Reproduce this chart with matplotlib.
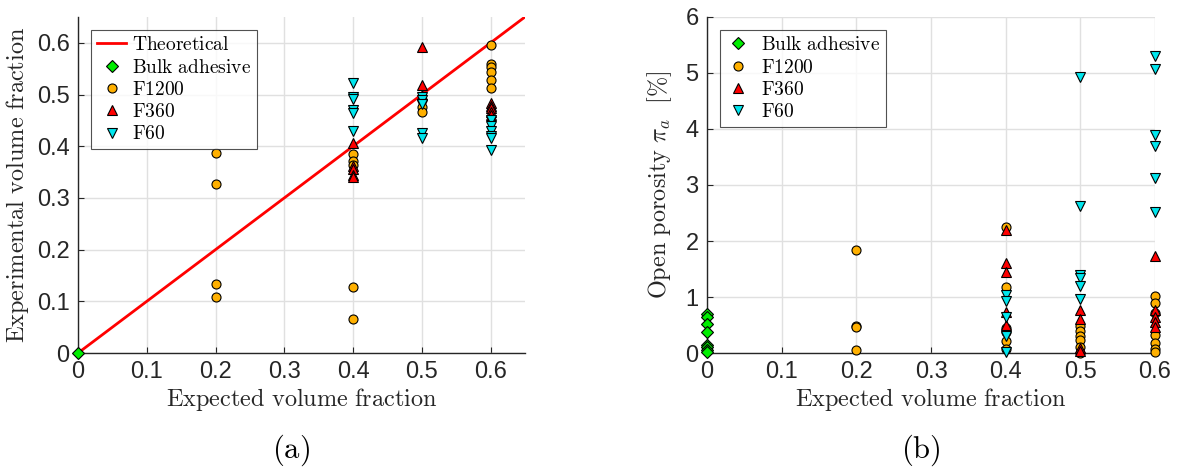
import matplotlib
matplotlib.use("Agg")
import matplotlib.pyplot as plt

plt.rcParams['font.family'] = ['Liberation Sans', 'DejaVu Sans']
plt.rcParams['mathtext.fontset'] = 'cm'

# (a) experimental vs expected volume fraction
bulk_x_a = [0.0]
bulk_y_a = [0.0]
f1200_x_a = [0.2, 0.2, 0.2, 0.2, 0.4, 0.4, 0.4, 0.4, 0.4, 0.5, 0.5, 0.5,
             0.6, 0.6, 0.6, 0.6, 0.6, 0.6]
f1200_y_a = [0.387, 0.327, 0.134, 0.109, 0.384, 0.371, 0.363, 0.128, 0.065,
             0.490, 0.476, 0.467, 0.596, 0.560, 0.554, 0.544, 0.528, 0.512]
f360_x_a = [0.4, 0.4, 0.4, 0.4, 0.4, 0.5, 0.5, 0.5, 0.6, 0.6, 0.6, 0.6, 0.6]
f360_y_a = [0.407, 0.362, 0.355, 0.345, 0.341, 0.592, 0.518, 0.500,
            0.483, 0.478, 0.473, 0.466, 0.460]
f60_x_a = [0.4, 0.4, 0.4, 0.4, 0.4, 0.4, 0.5, 0.5, 0.5, 0.5, 0.5,
           0.6, 0.6, 0.6, 0.6, 0.6, 0.6]
f60_y_a = [0.522, 0.496, 0.491, 0.471, 0.464, 0.430, 0.496, 0.489, 0.482,
           0.425, 0.415, 0.451, 0.440, 0.429, 0.420, 0.415, 0.393]
theory_x = [0.0, 0.65]
theory_y = [0.0, 0.65]

# (b) open porosity [%]
bulk_x_b = [0.0] * 8
bulk_y_b = [0.70, 0.64, 0.52, 0.38, 0.15, 0.10, 0.05, 0.01]
f1200_x_b = [0.2, 0.2, 0.2, 0.2, 0.4, 0.4, 0.4, 0.4, 0.4, 0.4,
             0.5, 0.5, 0.5, 0.5, 0.5, 0.5, 0.6, 0.6, 0.6, 0.6, 0.6, 0.6, 0.6]
f1200_y_b = [1.84, 0.49, 0.46, 0.06, 2.25, 1.17, 0.45, 0.37, 0.22, 0.07,
             0.49, 0.39, 0.30, 0.24, 0.10, 0.00, 1.01, 0.89, 0.72, 0.33, 0.18, 0.08, 0.01]
f360_x_b = [0.4, 0.4, 0.4, 0.4, 0.4, 0.5, 0.5, 0.5, 0.5, 0.6, 0.6, 0.6, 0.6, 0.6]
f360_y_b = [2.19, 1.61, 1.45, 0.74, 0.50, 0.76, 0.61, 0.09, 0.03,
            1.74, 0.76, 0.65, 0.55, 0.46]
f60_x_b = [0.4, 0.4, 0.4, 0.4, 0.4, 0.5, 0.5, 0.5, 0.5, 0.5, 0.5,
           0.6, 0.6, 0.6, 0.6, 0.6, 0.6]
f60_y_b = [1.04, 0.93, 0.64, 0.30, 0.02, 4.93, 2.63, 1.40, 1.34, 1.19, 0.97,
           5.31, 5.08, 3.90, 3.70, 3.13, 2.52]

c_bulk = '#00ee00'
c_f1200 = '#ffb000'
c_f360 = '#ff0000'
c_f60 = '#00e6ee'


def tx(s):
    return r'$\mathrm{' + s.replace(' ', r'\ ') + '}$'


def style_axes(ax):
    ax.grid(True, color='#e0e0e0', linewidth=1.0, zorder=0)
    ax.set_axisbelow(True)
    for side in ['top', 'right']:
        ax.spines[side].set_visible(False)
    for side in ['left', 'bottom']:
        ax.spines[side].set_color('#262626')
        ax.spines[side].set_linewidth(1.0)
    ax.tick_params(labelsize=17, colors='#262626', direction='in', length=4, pad=6)


def scatter_sets(ax, sets):
    for xs, ys, mk, col, ms, lab in sets:
        ax.plot(xs, ys, linestyle='none', marker=mk, markersize=ms,
                markerfacecolor=col, markeredgecolor='black',
                markeredgewidth=0.8, label=tx(lab), clip_on=False, zorder=3)


fig = plt.figure(figsize=(11.77, 4.69), dpi=100)

ax1 = fig.add_axes([0.0663, 0.2473, 0.3797, 0.7165])
style_axes(ax1)
ax1.plot(theory_x, theory_y, color='red', linewidth=2, label=tx('Theoretical'), zorder=2)
scatter_sets(ax1, [
    (bulk_x_a, bulk_y_a, 'D', c_bulk, 6, 'Bulk adhesive'),
    (f1200_x_a, f1200_y_a, 'o', c_f1200, 6.5, 'F1200'),
    (f360_x_a, f360_y_a, '^', c_f360, 7.5, 'F360'),
    (f60_x_a, f60_y_a, 'v', c_f60, 7.5, 'F60'),
])
ax1.set_xlim(0, 0.65)
ax1.set_ylim(0, 0.65)
ax1.set_xticks([0, 0.1, 0.2, 0.3, 0.4, 0.5, 0.6])
ax1.set_xticklabels(['0', '0.1', '0.2', '0.3', '0.4', '0.5', '0.6'])
ax1.set_yticks([0, 0.1, 0.2, 0.3, 0.4, 0.5, 0.6])
ax1.set_yticklabels(['0', '0.1', '0.2', '0.3', '0.4', '0.5', '0.6'])
ax1.set_xlabel(tx('Expected volume fraction'), fontsize=17.5, color='#262626', labelpad=2)
ax1.set_ylabel(tx('Experimental volume fraction'), fontsize=17.5, color='#262626', labelpad=4)
leg1 = ax1.legend(loc='upper left', bbox_to_anchor=(0.03, 0.96), fontsize=14,
                  frameon=True, fancybox=False, edgecolor='#262626',
                  handlelength=1.5, handletextpad=0.3, labelspacing=0.22,
                  borderpad=0.3, borderaxespad=0)
leg1.get_frame().set_linewidth(0.8)

ax2 = fig.add_axes([0.6007, 0.2473, 0.3806, 0.7165])
style_axes(ax2)
scatter_sets(ax2, [
    (bulk_x_b, bulk_y_b, 'D', c_bulk, 6, 'Bulk adhesive'),
    (f1200_x_b, f1200_y_b, 'o', c_f1200, 6.5, 'F1200'),
    (f360_x_b, f360_y_b, '^', c_f360, 7.5, 'F360'),
    (f60_x_b, f60_y_b, 'v', c_f60, 7.5, 'F60'),
])
ax2.set_xlim(0, 0.6)
ax2.set_ylim(0, 6)
ax2.set_xticks([0, 0.1, 0.2, 0.3, 0.4, 0.5, 0.6])
ax2.set_xticklabels(['0', '0.1', '0.2', '0.3', '0.4', '0.5', '0.6'])
ax2.set_yticks([0, 1, 2, 3, 4, 5, 6])
ax2.set_xlabel(tx('Expected volume fraction'), fontsize=17.5, color='#262626', labelpad=2)
ax2.set_ylabel(r'$\mathrm{Open\ porosity}\ \pi_a\ \ [\%]$', fontsize=17.5,
               color='#262626', labelpad=8)
leg2 = ax2.legend(loc='upper left', bbox_to_anchor=(0.03, 0.96), fontsize=14,
                  frameon=True, fancybox=False, edgecolor='#262626',
                  handlelength=1.2, handletextpad=0.6, labelspacing=0.22,
                  borderpad=0.3, borderaxespad=0)
leg2.get_frame().set_linewidth(0.8)

fig.text(0.247, 0.04, tx('(a)'), fontsize=22, ha='center', va='center')
fig.text(0.782, 0.04, tx('(b)'), fontsize=22, ha='center', va='center')

fig.savefig('out.png', dpi=100)
